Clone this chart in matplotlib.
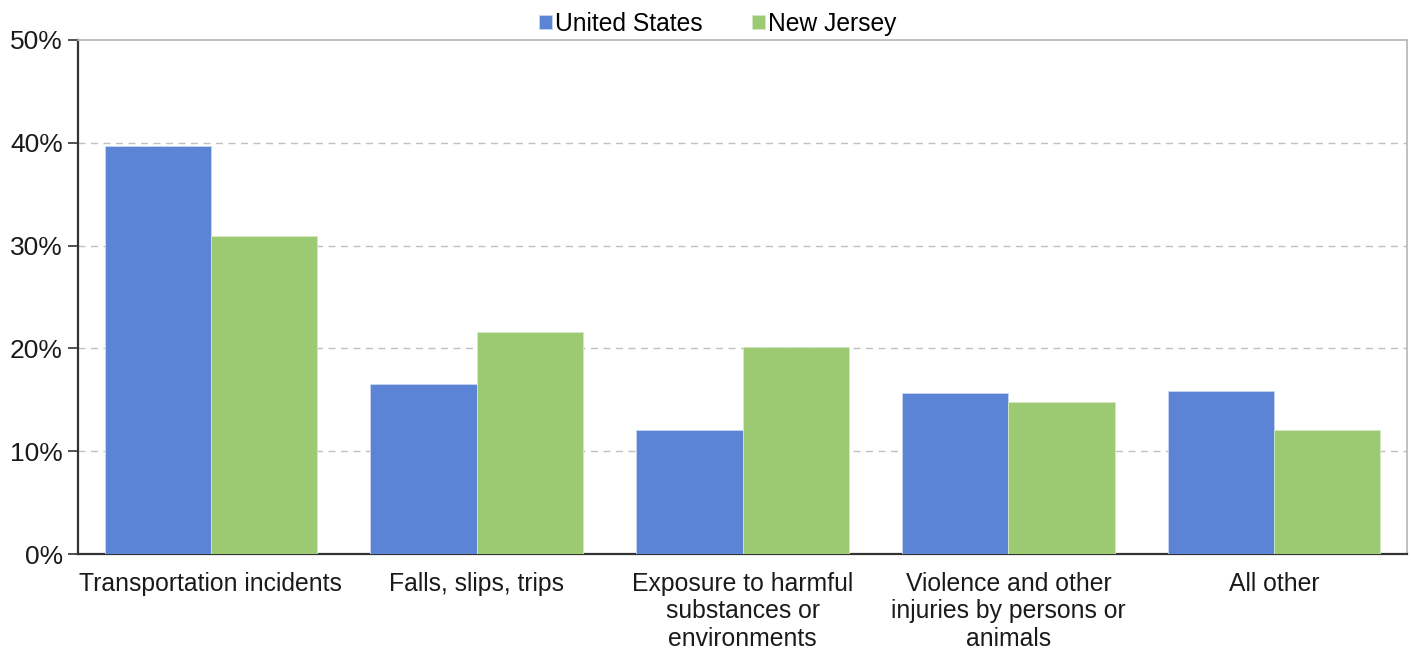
import matplotlib
matplotlib.use("Agg")
import matplotlib.pyplot as plt
import numpy as np
from matplotlib.ticker import FuncFormatter

categories = ["Transportation incidents", "Falls, slips, trips",
              "Exposure to harmful\nsubstances or\nenvironments",
              "Violence and other\ninjuries by persons or\nanimals", "All other"]
us_values = [39.7, 16.5, 12.1, 15.7, 15.9]
nj_values = [30.9, 21.6, 20.1, 14.8, 12.1]
series_names = ["United States", "New Jersey"]
yticks = [0, 10, 20, 30, 40, 50]

plt.rcParams['font.family'] = ['Liberation Sans', 'DejaVu Sans']

fig = plt.figure(figsize=(14.11, 6.52), dpi=100)
ax = fig.add_axes([0.0553, 0.1503, 0.9419, 0.7884])

x = np.arange(len(categories))
w = 0.4
blue = "#5B84D6"
green = "#9BCA72"
ax.bar(x - w/2, us_values, w, color=blue, label=series_names[0], zorder=3,
       edgecolor="#c9d6f2", linewidth=0.6)
ax.bar(x + w/2, nj_values, w, color=green, label=series_names[1], zorder=3,
       edgecolor="#d5e8c4", linewidth=0.6)

ax.set_xlim(-0.5, len(categories) - 0.5)
ax.set_ylim(0, 50)
ax.set_yticks(yticks)
ax.yaxis.set_major_formatter(FuncFormatter(lambda v, p: f"{int(v)}%"))
for t in yticks[1:-1]:
    ax.axhline(t, color="#c0c0c0", linestyle=(0, (5, 4)), linewidth=1.0, zorder=1)

ax.set_xticks(x)
ax.set_xticklabels(categories, fontsize=17.8, color="#1a1a1a", linespacing=1.18)
ax.tick_params(axis='x', length=0, pad=13)
ax.tick_params(axis='y', length=7, width=1.2, color="#333333", labelsize=19,
               labelcolor="#1a1a1a", pad=4, direction='out')

for s in ['left', 'bottom']:
    ax.spines[s].set_color("#333333")
    ax.spines[s].set_linewidth(1.6)
for s in ['top', 'right']:
    ax.spines[s].set_color("#b5b5b5")
    ax.spines[s].set_linewidth(1.2)

leg = ax.legend(loc='lower center', bbox_to_anchor=(0.4816, 1.006), ncol=2, frameon=False,
                fontsize=17.7, handlelength=0.5, handleheight=0.5, handletextpad=0.15,
                columnspacing=2.0, borderaxespad=0.0, borderpad=0.05)

fig.savefig("out.png", dpi=100, facecolor="white")
